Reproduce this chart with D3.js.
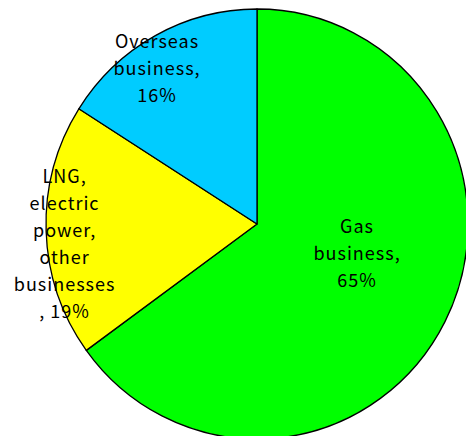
<!DOCTYPE html>
<html>
<head>
<meta charset="utf-8">
<script src="https://cdn.jsdelivr.net/npm/d3@7"></script>
<style>
  html, body { margin: 0; padding: 0; background: #fff; }
  svg { display: block; }
  .lbl { font-family: "Noto Sans CJK JP", "DejaVu Sans", sans-serif; font-size: 18px; letter-spacing: 1px; fill: #000; }
</style>
</head>
<body>
<div id="chart"></div>
<script>
(function() {

    // data
    const categories = ["Gas business", "LNG, electric power, other businesses", "Overseas business"];
    const shares = [65, 19, 16];
    const labelLines = [
        ["Gas", "business,", "65%"],
        ["LNG,", "electric", "power,", "other", "businesses", ", 19%"],
        ["Overseas", "business,", "16%"]
    ];
    const colors = ["#00ff00", "#ffff00", "#00ccff"];

    const width = 466, height = 436;
    const cx = 257, cy = 224;
    const rx = 211, ry = 215;
    const lineH = 27;

    // where each label sits: distance from centre and angular nudge (degrees)
    const labelPlace = [
        {r: 104, shift: -10.2},
        {r: 194, shift: -4.3},
        {r: 185, shift: -4.1}
    ];

    let svg = d3.select("#chart").append("svg")
                .attr("width", width)
                .attr("height", height);

    let pie = d3.pie().sort(null).value(d => d)
    let slices = pie(shares)

    let arc = d3.arc().innerRadius(0).outerRadius(rx)

    let g = svg.append("g")
               .attr("transform", "translate(" + cx + "," + cy + ") scale(1," + (ry / rx) + ")");

    g.selectAll("path")
        .data(slices)
        .enter().append("path")
        .attr("d", arc)
        .attr("fill", (d, i) => colors[i])
        .attr("stroke", "#000")
        .attr("stroke-width", 1.3)
        .attr("stroke-linejoin", "round")

    let labels = svg.append("g")

    slices.forEach(function(s, i) {
        let a = (s.startAngle + s.endAngle) / 2 + labelPlace[i].shift * Math.PI / 180;
        let x = cx + labelPlace[i].r * Math.sin(a) + 0.5;
        let y = cy - labelPlace[i].r * Math.cos(a);
        let lines = labelLines[i];
        let t = labels.append("text")
            .attr("class", "lbl")
            .attr("text-anchor", "middle")
            .attr("x", x)
            .attr("y", y - (lines.length - 1) / 2 * lineH + 6);
        lines.forEach(function(l, j) {
            t.append("tspan")
                .attr("x", x)
                .attr("dy", j === 0 ? 0 : lineH)
                .text(l)
        })
    })

})();
</script>
</body>
</html>
